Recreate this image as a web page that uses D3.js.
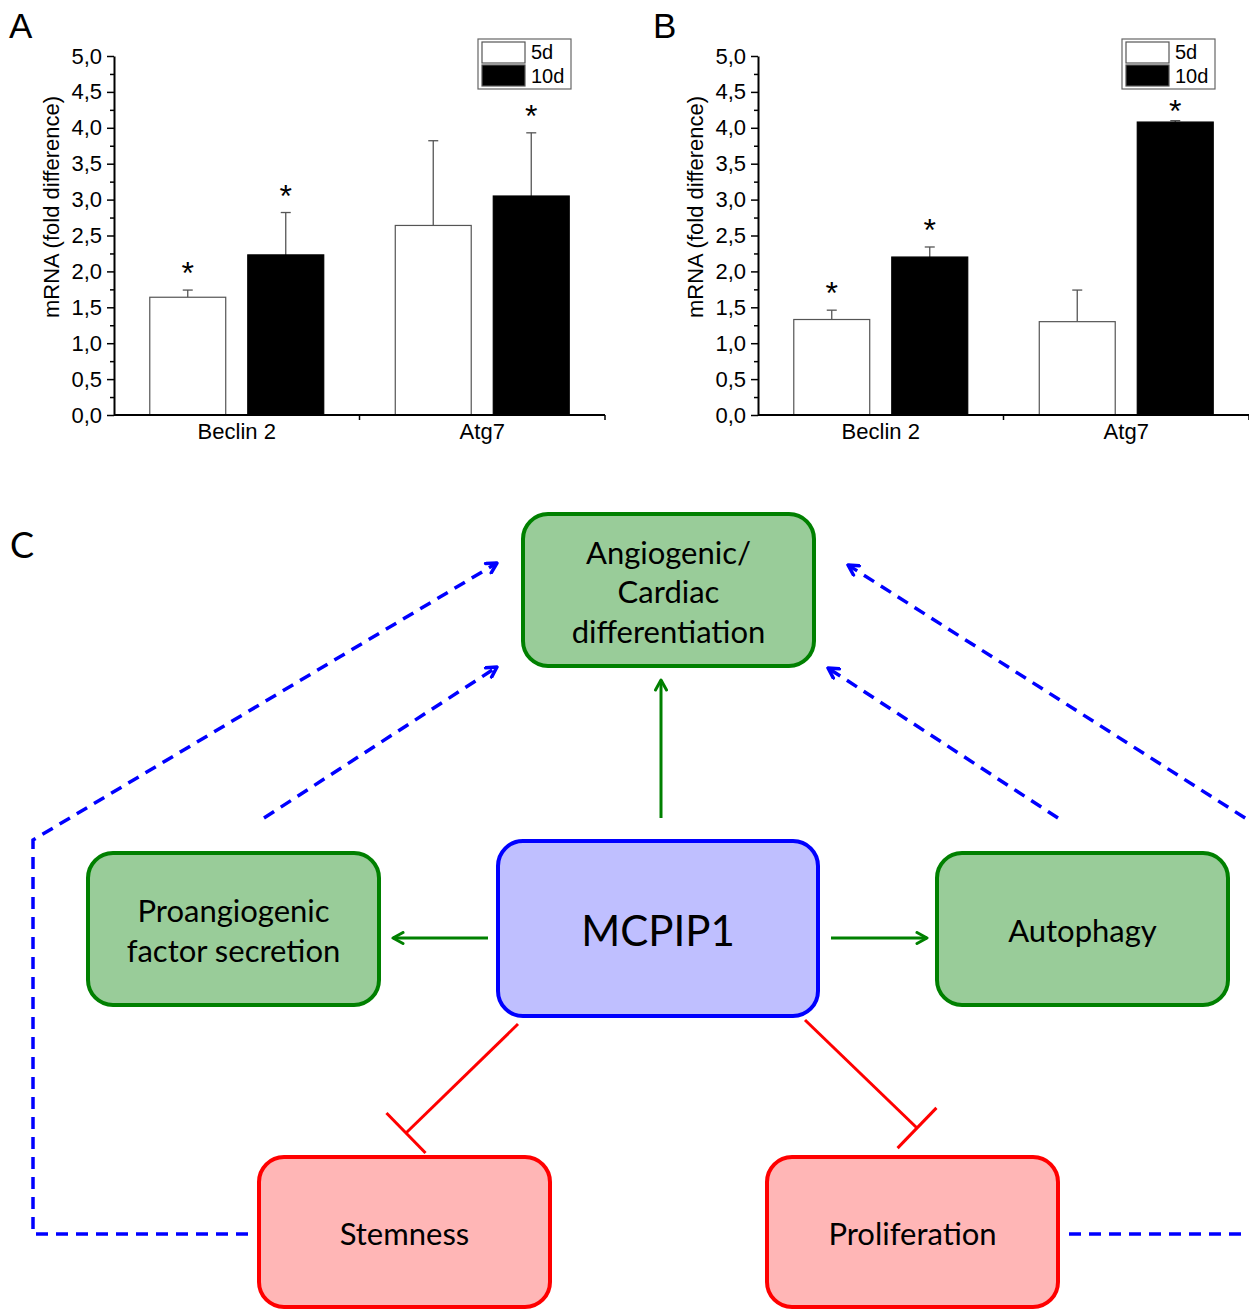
<!DOCTYPE html>
<html>
<head>
<meta charset="utf-8">
<script src="https://cdn.jsdelivr.net/npm/d3@7"></script>
<style>
  body { margin: 0; background: #fff; }
  svg { display: block; }
</style>
</head>
<body>
<svg id="fig"></svg>
<script>
// data
const categories = ["Beclin 2", "Atg7"];
const series = ["5d", "10d"];
const yMajor = [0, 0.5, 1, 1.5, 2, 2.5, 3, 3.5, 4, 4.5, 5];
const yMinor = [0.25, 0.75, 1.25, 1.75, 2.25, 2.75, 3.25, 3.75, 4.25, 4.75];

// panel A
const meanA5 = [1.64, 2.64];
const errA5 = [0.10, 1.18];
const meanA10 = [2.23, 3.05];
const errA10 = [0.59, 0.88];
const starA5 = [true, false];
const starA10 = [true, true];

// panel B
const meanB5 = [1.33, 1.30];
const errB5 = [0.13, 0.44];
const meanB10 = [2.20, 4.08];
const errB10 = [0.14, 0.02];
const starB5 = [true, false];
const starB10 = [true, true];

// panel C
const nodeLabels = {
    angio: ["Angiogenic/", "Cardiac", "differentiation"],
    mcpip: ["MCPIP1"],
    proang: ["Proangiogenic", "factor secretion"],
    autoph: ["Autophagy"],
    stem: ["Stemness"],
    prolif: ["Proliferation"]
};

const width = 1249, height = 1310;
const svg = d3.select("#fig").attr("width", width).attr("height", height);

const fmt = d => d3.format(".1f")(d).replace(".", ",");

function panel(ox, letter, mean5, err5, mean10, err10, star5, star10) {
    const left = ox + 114, right = ox + 605, top = 56, bottom = 415;
    const y = d3.scaleLinear().domain([0, 5]).range([bottom, top]);
    const x0 = d3.scaleBand().domain(categories).range([left, right]);
    const x1 = d3.scaleBand().domain(series).range([0, x0.bandwidth()])
        .paddingInner(0.225).paddingOuter(0.365);

    const rows = categories.flatMap((c, i) => [
        {c: c, s: "5d", v: mean5[i], e: err5[i], star: star5[i]},
        {c: c, s: "10d", v: mean10[i], e: err10[i], star: star10[i]}
    ]);

    const g = svg.append("g").attr("font-family", "'Liberation Sans', Arial, sans-serif");

    g.append("text").attr("x", ox + 9).attr("y", 38)
        .attr("font-size", 35).text(letter);

    // error bars
    const eb = g.append("g").attr("stroke", "#555").attr("stroke-width", 1.3);
    rows.forEach(d => {
        const cx = x0(d.c) + x1(d.s) + x1.bandwidth() / 2;
        eb.append("line").attr("x1", cx).attr("x2", cx).attr("y1", y(d.v)).attr("y2", y(d.v + d.e));
        eb.append("line").attr("x1", cx - 5).attr("x2", cx + 5).attr("y1", y(d.v + d.e)).attr("y2", y(d.v + d.e));
    });

    // bars
    g.append("g").selectAll("rect").data(rows).join("rect")
        .attr("x", d => x0(d.c) + x1(d.s))
        .attr("y", d => y(d.v))
        .attr("width", x1.bandwidth())
        .attr("height", d => y(0) - y(d.v))
        .attr("fill", d => d.s === "5d" ? "#fff" : "#000")
        .attr("stroke", d => d.s === "5d" ? "#555" : "#000")
        .attr("stroke-width", 1.2);

    // asterisks
    g.append("g").selectAll("text").data(rows.filter(d => d.star)).join("text")
        .attr("x", d => x0(d.c) + x1(d.s) + x1.bandwidth() / 2)
        .attr("y", d => Math.max(y(d.v + d.e) - 24, 104) + 18)
        .attr("text-anchor", "middle")
        .attr("font-size", 32)
        .text("*");

    // y axis
    const ya = g.append("g").attr("transform", `translate(${left},0)`)
        .call(d3.axisLeft(y).tickValues(yMajor).tickFormat(fmt).tickSize(7).tickSizeOuter(0).tickPadding(5));
    ya.select(".domain").attr("stroke-width", 2);
    ya.selectAll(".tick line").attr("stroke-width", 1.5);
    ya.selectAll(".tick text").attr("font-size", 22).attr("font-family", "'Liberation Sans', Arial, sans-serif").attr("fill", "#000");

    g.append("g").attr("transform", `translate(${left},0)`)
        .call(d3.axisLeft(y).tickValues(yMinor).tickFormat("").tickSize(4))
        .call(a => a.select(".domain").remove())
        .selectAll(".tick line").attr("stroke-width", 1.5);

    g.append("text")
        .attr("transform", `translate(${ox + 59},207) rotate(-90)`)
        .attr("text-anchor", "middle")
        .attr("font-size", 22)
        .text("mRNA (fold difference)");

    // x axis
    g.append("line").attr("x1", left).attr("x2", right).attr("y1", bottom).attr("y2", bottom)
        .attr("stroke", "#000").attr("stroke-width", 2);
    g.append("g").selectAll("line").data(categories).join("line")
        .attr("x1", c => x0(c) + x0.bandwidth()).attr("x2", c => x0(c) + x0.bandwidth())
        .attr("y1", bottom).attr("y2", bottom + 5)
        .attr("stroke", "#000").attr("stroke-width", 1.5);
    g.append("g").selectAll("text").data(categories).join("text")
        .attr("x", c => x0(c) + x0.bandwidth() / 2)
        .attr("y", 439)
        .attr("text-anchor", "middle")
        .attr("font-size", 22)
        .text(c => c);

    // legend
    const lg = g.append("g").attr("transform", `translate(${ox + 478},39)`);
    lg.append("rect").attr("width", 93).attr("height", 50).attr("fill", "#fff").attr("stroke", "#666").attr("stroke-width", 1.2);
    series.forEach((s, i) => {
        lg.append("rect").attr("x", 4).attr("y", 3 + i * 23).attr("width", 43).attr("height", 21)
            .attr("fill", i === 0 ? "#fff" : "#000").attr("stroke", "#555").attr("stroke-width", 1.2);
        lg.append("text").attr("x", 53).attr("y", 20 + i * 24).attr("font-size", 20).text(s);
    });
}

panel(0, "A", meanA5, errA5, meanA10, errA10, starA5, starA10);
panel(644, "B", meanB5, errB5, meanB10, errB10, starB5, starB10);

// panel C layout
const boxes = {
    angio: {x: 523, y: 514, w: 291, h: 152, kind: "green"},
    mcpip: {x: 498, y: 841, w: 320, h: 175, kind: "blue"},
    proang: {x: 88, y: 853, w: 291, h: 152, kind: "green"},
    autoph: {x: 937, y: 853, w: 291, h: 152, kind: "green"},
    stem: {x: 259, y: 1157, w: 291, h: 150, kind: "red"},
    prolif: {x: 767, y: 1157, w: 291, h: 150, kind: "red"}
};
const palette = {
    green: {fill: "#99cc99", stroke: "#008000"},
    blue: {fill: "#bfbfff", stroke: "#0000ff"},
    red: {fill: "#ffb6b6", stroke: "#ff0000"}
};

const defs = svg.append("defs");
[["arrGreen", "#008000", 3], ["arrBlue", "#0000ff", 3.5]].forEach(([id, col, sw]) => {
    defs.append("marker").attr("id", id)
        .attr("viewBox", "0 0 14 14").attr("refX", 12).attr("refY", 7)
        .attr("markerWidth", 14).attr("markerHeight", 14)
        .attr("markerUnits", "userSpaceOnUse").attr("orient", "auto")
        .append("path").attr("d", "M2,1.5 L12,7 L2,12.5")
        .attr("fill", "none").attr("stroke", col).attr("stroke-width", sw)
        .attr("stroke-linecap", "round").attr("stroke-linejoin", "round");
});

const c = svg.append("g");
c.append("text").attr("x", 10).attr("y", 558).attr("font-family", "Lato, sans-serif")
    .attr("font-size", 36).text("C");

const line = d3.line();

// blue dashed feedback
const blueEdges = [
    [[248, 1234], [33, 1234], [33, 840], [497, 563]],
    [[264, 818], [497, 667]],
    [[1058, 818], [828, 668]],
    [[1069, 1234], [1289, 1234], [1289, 846], [848, 565]]
];
c.append("g").selectAll("path").data(blueEdges).join("path")
    .attr("d", d => line(d))
    .attr("fill", "none").attr("stroke", "#0000ff").attr("stroke-width", 3.5)
    .attr("stroke-dasharray", "12,8")
    .attr("marker-end", "url(#arrBlue)");

// green activation arrows
const greenEdges = [
    [[661, 818], [661, 680]],
    [[488, 938], [393, 938]],
    [[831, 938], [927, 938]]
];
c.append("g").selectAll("path").data(greenEdges).join("path")
    .attr("d", d => line(d))
    .attr("fill", "none").attr("stroke", "#008000").attr("stroke-width", 3)
    .attr("marker-end", "url(#arrGreen)");

// red inhibition
const redEdges = [
    [[518, 1024], [406, 1133]],
    [[805, 1020], [917, 1128]]
];
redEdges.forEach(([a, b]) => {
    const dx = b[0] - a[0], dy = b[1] - a[1], len = Math.hypot(dx, dy);
    const px = -dy / len * 28, py = dx / len * 28;
    c.append("path").attr("d", line([a, b])).attr("stroke", "#ff0000").attr("stroke-width", 3).attr("fill", "none");
    c.append("path").attr("d", line([[b[0] - px, b[1] - py], [b[0] + px, b[1] + py]]))
        .attr("stroke", "#ff0000").attr("stroke-width", 3).attr("fill", "none");
});

// boxes
Object.entries(boxes).forEach(([k, b]) => {
    const p = palette[b.kind];
    const bg = c.append("g");
    bg.append("rect").attr("x", b.x).attr("y", b.y).attr("width", b.w).attr("height", b.h)
        .attr("rx", 25).attr("ry", 25)
        .attr("fill", p.fill).attr("stroke", p.stroke).attr("stroke-width", 4);
    const lines = nodeLabels[k];
    const fs = k === "mcpip" ? 42 : 31;
    const lh = 39.5;
    const cy = b.y + b.h / 2 + 1;
    lines.forEach((t, i) => {
        bg.append("text")
            .attr("x", b.x + b.w / 2)
            .attr("y", cy + (i - (lines.length - 1) / 2) * lh)
            .attr("text-anchor", "middle")
            .attr("dominant-baseline", "central")
            .attr("font-family", "Lato, sans-serif")
            .attr("font-size", fs)
            .text(t);
    });
});
</script>
</body>
</html>
